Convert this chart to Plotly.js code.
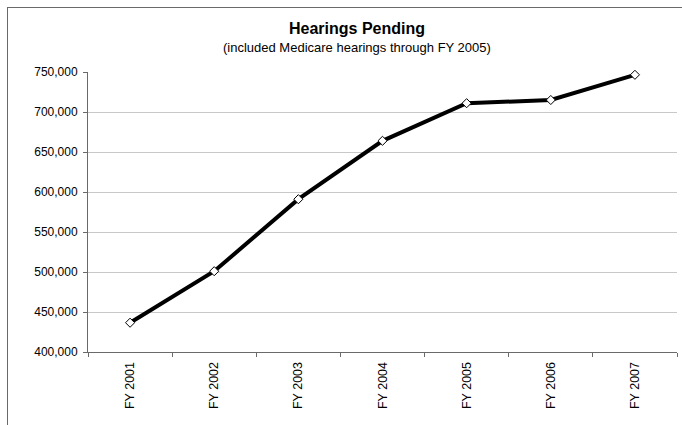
<!DOCTYPE html>
<html>
<head>
<meta charset="utf-8">
<script src="https://cdn.plot.ly/plotly-3.0.1.min.js"></script>
<style>
  html, body { margin: 0; padding: 0; background: #fff; }
  #wrap { position: relative; width: 682px; height: 425px; overflow: hidden; }
  #chart { width: 682px; height: 425px; }
  #frame { position: absolute; left: 7px; top: 7px; width: 700px; height: 500px;
           border-top: 1px solid #6a6a6a; border-left: 1px solid #6a6a6a; pointer-events: none; }
</style>
</head>
<body>
<div id="wrap">
  <div id="chart"></div>
  <div id="frame"></div>
</div>
<script>
const categories = ["FY 2001", "FY 2002", "FY 2003", "FY 2004", "FY 2005", "FY 2006", "FY 2007"];
const pending = [436600, 501000, 591000, 664000, 711000, 715000, 746500];
const yTickValues = [400000, 450000, 500000, 550000, 600000, 650000, 700000, 750000];
const titleText = "Hearings Pending";
const subtitleText = "(included Medicare hearings through FY 2005)";

const font = "Arial, 'Liberation Sans', sans-serif";

const trace = {
  type: "scatter",
  mode: "lines+markers",
  x: categories,
  y: pending,
  line: { color: "#000000", width: 4 },
  marker: { symbol: "diamond", size: 7, color: "#ffffff", line: { color: "#000000", width: 1 } },
  hoverinfo: "skip",
  cliponaxis: false
};

const layout = {
  width: 682,
  height: 425,
  margin: { l: 88, r: 5, t: 72, b: 73, pad: 0 },
  paper_bgcolor: "#ffffff",
  plot_bgcolor: "#ffffff",
  showlegend: false,
  font: { family: font, color: "#000000", size: 12 },
  title: {
    text: "<b>" + titleText + "</b>",
    font: { family: font, size: 16, color: "#000000" },
    xref: "container", x: 0.5235, xanchor: "center",
    yref: "container", y: 1 - 28 / 425, yanchor: "middle"
  },
  annotations: [{
    text: subtitleText,
    xref: "paper", yref: "paper",
    x: (357 - 88) / 589, xanchor: "center",
    y: 1 + (72 - 47) / 280, yanchor: "middle",
    showarrow: false,
    font: { family: font, size: 13, color: "#000000" }
  }],
  xaxis: {
    type: "category",
    range: [-0.5, 6.5],
    showgrid: false,
    showline: true,
    linecolor: "#6a6a6a",
    linewidth: 1,
    ticks: "outside",
    tickson: "boundaries",
    ticklen: 4,
    tickcolor: "#6a6a6a",
    tickangle: -90,
    ticklabelstandoff: 4,
    tickfont: { family: font, size: 12.5, color: "#000000" },
    zeroline: false,
    fixedrange: true
  },
  yaxis: {
    range: [400000, 750000],
    tickvals: yTickValues,
    tickformat: ",d",
    showgrid: true,
    gridcolor: "#c8c8c8",
    gridwidth: 1,
    showline: true,
    linecolor: "#6a6a6a",
    linewidth: 1,
    ticks: "outside",
    ticklen: 4,
    tickcolor: "#6a6a6a",
    ticklabelstandoff: 3,
    tickfont: { family: font, size: 12, color: "#000000" },
    zeroline: false,
    fixedrange: true
  }
};

Plotly.newPlot("chart", [trace], layout, { staticPlot: true, displayModeBar: false });
</script>
</body>
</html>
